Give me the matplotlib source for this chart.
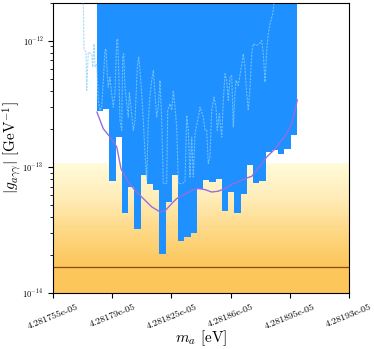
import numpy as np
import matplotlib
matplotlib.use('Agg')
import matplotlib.pyplot as plt
from matplotlib.colors import LinearSegmentedColormap
from matplotlib.ticker import NullFormatter

plt.rcParams['font.family'] = 'serif'
plt.rcParams['font.serif'] = ['cmr10']
plt.rcParams['mathtext.fontset'] = 'cm'
plt.rcParams['axes.unicode_minus'] = False
plt.rcParams['axes.formatter.use_mathtext'] = True

# masses are given as offsets from m0, in units of 1e-11 eV
m0 = 4.28175e-05
unit = 1e-11

# excluded region (blue bins): lower edge of each bin
bin_lo, bin_hi, n_bins = 31.0, 149.1, 32
bin_bottom = [2.77e-13, 2.86e-13, 7.78e-14, 1.73e-13, 4.33e-14, 6.95e-14, 3.22e-14, 8.6e-14,
              7.39e-14, 6.54e-14, 2.04e-14, 5.29e-14, 8.6e-14, 2.60e-14, 2.80e-14, 2.98e-14,
              6.75e-14, 7.95e-14, 7.61e-14, 8.04e-14, 4.49e-14, 6.34e-14, 4.33e-14, 6.16e-14,
              1.03e-13, 7.47e-14, 7.75e-14, 1.31e-13, 1.37e-13, 1.26e-13, 1.40e-13, 1.78e-13]

# expected sensitivity (purple)
sens_m = [31.0, 34.7, 38.7, 42.7, 45.2, 49.5, 53.5, 58.4, 63.4, 68.3, 71.2, 75.2, 78.1, 83.0,
          87.0, 90.9, 94.9, 98.8, 102.7, 106.7, 110.6, 114.5, 118.5, 122.5, 125.4, 128.4,
          131.3, 134.3, 137.3, 140.2, 143.2, 146.1, 148.1, 149.4]
sens_g = [2.72e-13, 2.01e-13, 1.73e-13, 1.44e-13, 9.7e-14, 7.6e-14, 6.54e-14, 5.62e-14,
          4.83e-14, 4.41e-14, 4.49e-14, 5.14e-14, 5.62e-14, 6.08e-14, 6.54e-14, 6.75e-14,
          6.62e-14, 6.34e-14, 6.43e-14, 6.75e-14, 7.30e-14, 7.61e-14, 8.09e-14, 8.44e-14,
          9.42e-14, 1.06e-13, 1.20e-13, 1.31e-13, 1.44e-13, 1.63e-13, 1.84e-13, 2.20e-13,
          2.81e-13, 3.40e-13]

# observed limit (dashed), log10 of coupling
lim_m = [22.91, 23.33, 24.51, 24.92, 25.87, 27.88, 28.47, 29.24, 29.83, 30.84, 31.78, 32.79,
         33.79, 34.74, 35.74, 36.33, 37.10, 37.69, 38.70, 39.70, 40.65, 41.65, 42.66, 43.25,
         44.02, 44.61, 45.62, 46.21, 46.80, 47.57, 48.57, 49.52, 50.11, 51.11, 52.47, 53.48,
         54.84, 55.67, 56.43, 57.44, 58.39, 59.39, 60.40, 61.34, 62.35, 63.35, 64.30, 66.31,
         67.25, 68.26, 69.26, 70.21, 72.22, 72.81, 74.17, 75.18, 76.12, 77.13, 78.13, 79.08,
         81.09, 83.04, 84.04, 84.99, 85.99, 87.00, 87.95, 88.95, 90.90, 91.91, 93.86, 94.86,
         95.87, 96.81, 97.82, 98.82, 100.18, 101.37, 102.13, 103.32, 104.74, 105.68, 106.69,
         107.69, 108.64, 109.64, 110.65, 111.59, 112.60, 113.19, 114.55, 115.97, 117.51,
         118.51, 119.52, 120.46, 121.47, 122.47, 123.42, 125.43, 126.96, 128.38, 129.33,
         130.33, 131.34, 132.29, 133.29, 134.89, 135.66]
lim_logg = [-11.706, -12.064, -12.091, -12.394, -12.091, -12.104, -12.209, -12.025, -12.209,
            -12.183, -12.473, -12.552, -12.526, -12.315, -12.077, -12.064, -12.262, -12.368,
            -12.289, -12.420, -12.526, -12.407, -11.998, -11.985, -12.315, -12.631, -12.710,
            -12.130, -12.104, -12.368, -12.499, -12.605, -12.407, -12.526, -12.710, -12.631,
            -12.209, -12.130, -12.236, -12.420, -12.631, -12.894, -13.105, -12.631, -12.433,
            -12.315, -12.236, -12.605, -12.526, -12.315, -12.631, -13.131, -13.131, -12.552,
            -12.499, -12.552, -12.394, -12.526, -12.684, -13.131, -13.131, -13.119, -12.591,
            -12.710, -13.079, -12.763, -13.079, -12.736, -12.605, -12.526, -12.605, -12.710,
            -12.710, -12.973, -12.921, -12.552, -12.447, -12.526, -12.710, -12.578, -12.763,
            -12.473, -12.262, -12.315, -12.473, -12.289, -12.275, -12.684, -12.420, -12.315,
            -12.354, -12.236, -12.104, -12.209, -12.420, -12.552, -12.368, -12.104, -12.025,
            -12.038, -12.025, -11.998, -12.104, -12.328, -12.077, -11.945, -11.866, -11.787,
            -11.706]

# QCD axion band and model line
band_top = 1.07e-13
model_g = 1.63e-14

xticks = [4.281755e-05, 4.28179e-05, 4.281825e-05, 4.28186e-05, 4.281895e-05, 4.28193e-05]
xtick_labels = ['4.281755e-05', '4.28179e-05', '4.281825e-05', '4.28186e-05', '4.281895e-05', '4.28193e-05']
yticks = [1e-14, 1e-13, 1e-12]
xlim = (4.281755e-05, 4.28193e-05)
ylim = (1e-14, 2e-12)

fig = plt.figure(figsize=(3.74, 3.49), dpi=100)
ax = fig.add_axes([0.1417, 0.1596, 0.7915, 0.8327])
ax.set_yscale('log')

# orange band with gradient
cmap = LinearSegmentedColormap.from_list('band', ['#fcc65a', '#fdd784', '#ffecb8', '#fffad8'])
ax.fill_between(xlim, ylim[0], model_g, color='#fcc65a', lw=0, zorder=0)
levels = np.geomspace(model_g, band_top, 60)
for i in range(len(levels) - 1):
    ax.fill_between(xlim, levels[i], levels[i + 1], color=cmap(i / (len(levels) - 2)), lw=0, zorder=0)
ax.axhline(model_g, color='#8a4a14', lw=0.9, zorder=1)

# excluded bins
edges = m0 + unit * np.linspace(bin_lo, bin_hi, n_bins + 1)
bottoms = np.append(bin_bottom, bin_bottom[-1])
ax.fill_between(edges, bottoms, ylim[1] * 2, step='post', color='#1e90ff', lw=0, zorder=2)

# observed limit
ax.plot(m0 + unit * np.array(lim_m), 10 ** np.array(lim_logg), color='#87cefa', alpha=0.75,
        lw=0.8, ls=(0, (2, 1)), zorder=3)

# expected sensitivity
ax.plot(m0 + unit * np.array(sens_m), sens_g, color='#9370db', lw=1.0, zorder=4)

ax.set_xlim(*xlim)
ax.set_ylim(*ylim)
ax.set_xticks(xticks)
ax.set_xticklabels(xtick_labels, rotation=22, fontsize=7)
ax.set_yticks(yticks)
minor = [k * t for t in yticks for k in range(2, 10) if k * t <= ylim[1]]
ax.set_yticks(minor, minor=True)
ax.yaxis.set_minor_formatter(NullFormatter())
ax.tick_params(axis='y', which='major', labelsize=6)
ax.set_xlabel(r'$m_a$ [eV]', fontsize=11)
ax.set_ylabel(r'$|g_{a\gamma\gamma}|$ [GeV$^{-1}$]', fontsize=11)
ax.xaxis.set_label_coords(0.5, -0.12)
ax.yaxis.set_label_coords(-0.10, 0.5)

fig.savefig('out.png', dpi=100)
